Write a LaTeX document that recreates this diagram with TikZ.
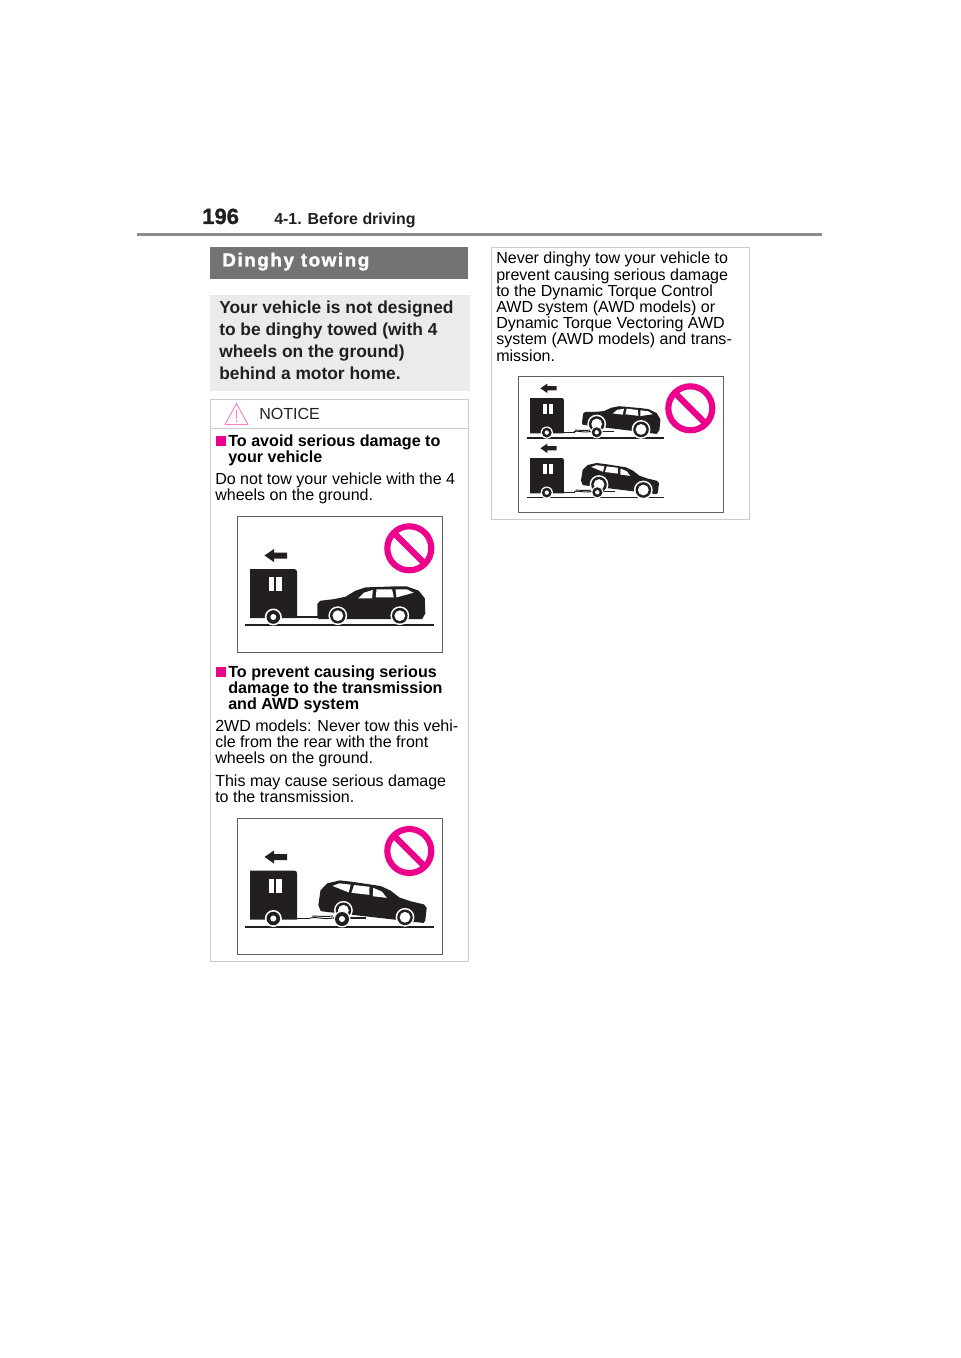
\documentclass[tikz,border=0pt]{standalone}
\usepackage{fontspec}
\setmainfont{Liberation Sans}
\newfontfamily\titlefont[LetterSpace=8,BoldFeatures={FakeBold=1.6}]{Liberation Sans}
\newfontfamily\numfont[BoldFeatures={FakeBold=1.2}]{Liberation Sans}
\usetikzlibrary{positioning}
\definecolor{inkblack}{HTML}{231F20}
\definecolor{signpink}{HTML}{EC008C}
\newcommand{\bodysize}{\fontsize{12.03}{12.15}\selectfont}
\newcommand{\headsize}{\fontsize{12.1}{12.15}\selectfont}
\tikzset{
  bodytext/.style={anchor=north west, inner sep=0pt, align=left, font=\bodysize},
  headtext/.style={anchor=north west, inner sep=0pt, align=left, font=\headsize\bfseries},
  panelbox/.style={draw=gray!75!black, line width=0.7pt},
  noticebox/.style={draw=black!20, line width=0.6pt},
  groundline/.style={draw=inkblack, line width=0.8pt},
  hitchline/.style={draw=inkblack, line width=0.8pt},
  pics/nosign/.style={code={
    \draw[signpink, line width=4.6pt] (0,0) circle[radius=22];
    \draw[signpink, line width=4.6pt] (-15.5,-15.5) -- (15.5,15.5);
  }},
  pics/trailer/.style={code={
    \fill[inkblack] (0,0) -- (0,-49) -- (44,-49) .. controls (46,-49) and (47,-48) .. (47,-46) -- (47,0) -- cycle;
    \fill[white] (18.5,-41) rectangle (24,-27);
    \fill[white] (26,-41) rectangle (32,-27);
    \fill[inkblack] (14.5,-62.5) -- (24,-69) -- (24,-65.5) -- (37,-65.5) -- (37,-59.5) -- (24,-59.5) -- (24,-56) -- cycle;
    \fill[white] (23.3,-1) circle[radius=8.5];
    \fill[inkblack] (23.3,-1) circle[radius=6.8];
    \fill[white] (23.3,-1) circle[radius=3];
  }},
  pics/carwheel/.style={code={
    \fill[white] (0,0) circle[radius=9.4];
    \fill[inkblack] (0,0) circle[radius=7.8];
    \fill[white] (0,0) circle[radius=5.4];
  }},
  pics/car/.style={code={
    \fill[inkblack] (-20.5,-12) -- (-17.3,-15) -- (-4,-16.5) -- (7.7,-19) -- (17.7,-25) -- (27.7,-28.3)
      -- (56,-29.3) -- (69,-29.3) -- (81,-25) -- (87,-17.3) -- (87.5,-2.3) -- (84.3,3.5) -- (-19,3.5) -- (-20.5,1) -- cycle;
    \fill[white] (20.3,-17.3) -- (26,-23) -- (35,-25.7) -- (34.3,-17.3) -- cycle;
    \fill[white] (38,-18.3) -- (38.7,-26.3) -- (54.3,-26.3) -- (56,-18.3) -- cycle;
    \fill[white] (57.7,-26.3) -- (69,-26.3) -- (75.7,-23) -- (58.7,-18.3) -- cycle;
    \pic at (0,0) {carwheel};
    \pic at (62,0) {carwheel};
  }},
  pics/dolly/.style={code={
    \draw[inkblack, line width=0.7pt] (-32,-1) .. controls (-26,-3) and (-20,1) .. (-9,-1);
    \draw[inkblack, line width=0.7pt] (-30,-3) .. controls (-24,-3) and (-18,-2) .. (-9,-3);
    \draw[inkblack, line width=0.8pt] (-9,-1) -- (24,-1);
    \fill[white] (0,0) circle[radius=8.5];
    \fill[inkblack] (0,0) circle[radius=7];
    \fill[white] (0,0) circle[radius=3];
  }},
}
\begin{document}
\begin{tikzpicture}[x=0.75pt, y=-0.75pt]
\useasboundingbox (0,0) rectangle (960,1358);
\fill[white] (0,0) rectangle (960,1358);

% page head
\node[anchor=base west, inner sep=0pt, font=\fontsize{16.5}{18}\numfont\bfseries, text=inkblack] (pagenum) at (202,224) {196};
\node[anchor=base west, inner sep=0pt, font=\fontsize{11.95}{14}\selectfont\bfseries, text=inkblack] (chapter) at (274,224.5) {4-1. Before driving};
\fill[black!45] (137,232.8) rectangle (822,235.8);

% left column
\fill[black!55] (210,247) rectangle (468,279);
\node[anchor=base west, inner sep=0pt, font=\fontsize{14.2}{16}\titlefont\bfseries, text=white] (title) at (222,266.5) {Dinghy towing};
\fill[black!8] (210,295) rectangle (470,391);
\node[anchor=north west, inner sep=0pt, align=left, font=\fontsize{13.03}{16.3}\selectfont\bfseries, text=inkblack] (intro) at (219,301) {Your vehicle is not designed\\to be dinghy towed (with 4\\wheels on the ground)\\behind a motor home.};

\draw[noticebox] (210,399) rectangle (468,961);
\draw[noticebox] (210,428) -- (468,428);
\draw[signpink!50, line width=0.7pt, line join=round] (236.5,403.5) -- (248,424.5) -- (225,424.5) -- cycle;
\fill[signpink!50] (235.7,410) rectangle (237.3,418.5);
\fill[signpink!50] (236.5,421) circle[radius=1];
\node[anchor=base west, inner sep=0pt, font=\bodysize, text=inkblack] (notice) at (259,419.5) {NOTICE};

\fill[signpink] (215.5,436) rectangle (225.5,446);
\node[headtext] (avoidhead) at (228,434.6) {To avoid serious damage to\\your vehicle};
\node[bodytext] (avoidtext) at (215,472.6) {Do not tow your vehicle with the 4\\wheels on the ground.};

% first panel
\draw[panelbox] (237,516) rectangle (442,652);
\coordinate (gonea) at (245,625);
\coordinate (goneb) at (434,625);
\draw[groundline] (gonea) -- (goneb);
\pic at (409.3,548.3) {nosign};
\pic at (250,618) {trailer};
\coordinate (hone) at (297,617);
\coordinate (honeb) at (318,617);
\draw[hitchline] (hone) -- (honeb);
\pic at (337.8,615.7) {car};

\fill[signpink] (215.5,667) rectangle (225.5,677);
\node[headtext] (prevhead) at (228,665.5) {To prevent causing serious\\damage to the transmission\\and AWD system};
\node[bodytext] (prevtext) at (215,719.3) {2WD models: Never tow this vehi-\\cle from the rear with the front\\wheels on the ground.};
\node[bodytext] (mayhead) at (215,774.3) {This may cause serious damage\\to the transmission.};

% second panel
\draw[panelbox] (237,818) rectangle (442,954);
\coordinate (gtwoa) at (245,927);
\coordinate (gtwob) at (434,927);
\draw[groundline] (gtwoa) -- (gtwob);
\pic at (409.3,851) {nosign};
\pic at (250,919.5) {trailer};
\coordinate (htwo) at (297,918.5);
\coordinate (htwob) at (310,918.5);
\draw[hitchline] (htwo) -- (htwob);
\pic[rotate=-6.5, xscale=-1] at (405,917.3) {car};
\pic at (342,919) {dolly};

% right column
\draw[noticebox] (491,247) rectangle (749,519);
\node[bodytext] (nevertext) at (496,252) {Never dinghy tow your vehicle to\\prevent causing serious damage\\to the Dynamic Torque Control\\AWD system (AWD models) or\\Dynamic Torque Vectoring AWD\\system (AWD models) and trans-\\mission.};

% third panel
\draw[panelbox] (518,376) rectangle (723,512);
\pic at (690.3,408.3) {nosign};
\coordinate (gtha) at (526.5,438);
\coordinate (gthb) at (664,438);
\draw[groundline] (gtha) -- (gthb);
\coordinate (gfoa) at (526.5,497.7);
\coordinate (gfob) at (664,497.7);
\draw[groundline] (gfoa) -- (gfob);
\pic[scale=.72] at (530,433.3) {trailer};
\pic[scale=.72] at (530,493.3) {trailer};
\coordinate (hth) at (564,432.5);
\coordinate (hthb) at (575,432.5);
\draw[hitchline] (hth) -- (hthb);
\coordinate (hfo) at (564,492.5);
\coordinate (hfob) at (575,492.5);
\draw[hitchline] (hfo) -- (hfob);
\pic[rotate=-7, scale=.72] at (596.7,424) {car};
\pic[rotate=-7, scale=.72, xscale=-1] at (643.3,490) {car};
\pic[scale=.72] at (596.7,432.3) {dolly};
\pic[scale=.72] at (597.3,492.3) {dolly};
\end{tikzpicture}
\end{document}
